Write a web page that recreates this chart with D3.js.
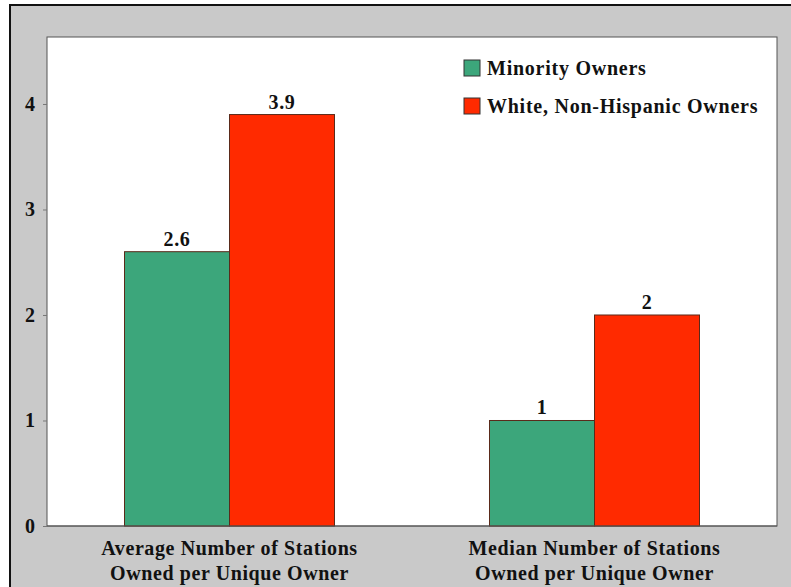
<!DOCTYPE html>
<html>
<head>
<meta charset="utf-8">
<script src="https://cdn.jsdelivr.net/npm/d3@7"></script>
<style>
  html, body { margin: 0; padding: 0; background: #fff; }
  svg text { font-family: "Liberation Serif", "DejaVu Serif", serif; fill: #111; }
</style>
</head>
<body>
<div id="chart"></div>
<script>
// --- Data ---
const categories = [
    ['Average Number of Stations', 'Owned per Unique Owner'],
    ['Median Number of Stations', 'Owned per Unique Owner']
];
const seriesNames = ['Minority Owners', 'White, Non-Hispanic Owners'];
const seriesColors = ['#3ca67b', '#ff2a00'];
const minorityValues = [2.6, 1];
const whiteValues = [3.9, 2];
const valueLabels = [['2.6', '1'], ['3.9', '2']];
const yTicks = [0, 1, 2, 3, 4];

const W = 791, H = 587;
const plot = { left: 47, top: 37, right: 777, bottom: 526 };

const svg = d3.select('#chart').append('svg')
    .attr('width', W)
    .attr('height', H);

// outer frame
svg.append('rect')
    .attr('x', 10).attr('y', 5)
    .attr('width', W - 9).attr('height', H)
    .attr('fill', '#c9c9c9')
    .attr('stroke', '#111')
    .attr('stroke-width', 2);

// plot area
svg.append('rect')
    .attr('x', plot.left).attr('y', plot.top)
    .attr('width', plot.right - plot.left)
    .attr('height', plot.bottom - plot.top)
    .attr('fill', '#fff')
    .attr('stroke', '#555')
    .attr('stroke-width', 1);

// --- Scales ---
const x0 = d3.scaleBand()
    .domain(d3.range(categories.length))
    .range([plot.left, plot.right]);

const x1 = d3.scaleBand()
    .domain(d3.range(seriesNames.length))
    .range([0, 210]);

const y = d3.scaleLinear()
    .domain([0, 4.635])
    .range([plot.bottom, plot.top]);

// --- Y axis ---
const yAxis = svg.append('g')
    .attr('transform', `translate(${plot.left},0)`)
    .call(d3.axisLeft(y).tickValues(yTicks).tickFormat(d3.format('d')).tickSize(4).tickPadding(8));
yAxis.select('.domain').remove();
yAxis.selectAll('line').attr('stroke', '#777');
yAxis.selectAll('text')
    .attr('font-size', 20)
    .attr('font-weight', 'bold')
    .style('font-family', '"Liberation Serif", serif')
    .attr('fill', '#111');

// --- Bars ---
const series = [minorityValues, whiteValues];
series.forEach((vals, s) => {
    vals.forEach((v, i) => {
        const bx = x0(i) + (x0.bandwidth() - 210) / 2 + x1(s);
        svg.append('rect')
            .attr('x', bx)
            .attr('y', y(v))
            .attr('width', x1.bandwidth())
            .attr('height', y(0) - y(v))
            .attr('fill', seriesColors[s])
            .attr('stroke', '#5a2a1a')
            .attr('stroke-width', 1);

        svg.append('text')
            .attr('x', bx + x1.bandwidth() / 2)
            .attr('y', y(v) - 6)
            .attr('text-anchor', 'middle')
            .attr('font-size', 20)
            .attr('font-weight', 'bold')
            .attr('letter-spacing', 0.7)
            .text(valueLabels[s][i]);
    });
});

// redraw plot bottom edge over bars
svg.append('line')
    .attr('x1', plot.left).attr('x2', plot.right)
    .attr('y1', plot.bottom).attr('y2', plot.bottom)
    .attr('stroke', '#555');

// --- Category labels ---
categories.forEach((lines, i) => {
    lines.forEach((line, j) => {
        svg.append('text')
            .attr('x', x0(i) + x0.bandwidth() / 2)
            .attr('y', 555 + j * 25)
            .attr('text-anchor', 'middle')
            .attr('font-size', 20)
            .attr('font-weight', 'bold')
            .attr('letter-spacing', 0.6)
            .text(line);
    });
});

// --- Legend ---
seriesNames.forEach((name, i) => {
    const ly = 60 + i * 38;
    svg.append('rect')
        .attr('x', 464).attr('y', ly)
        .attr('width', 16).attr('height', 16)
        .attr('fill', seriesColors[i])
        .attr('stroke', '#333')
        .attr('stroke-width', 1);
    svg.append('text')
        .attr('x', 487).attr('y', ly + 15)
        .attr('font-size', 20)
        .attr('font-weight', 'bold')
        .attr('letter-spacing', 0.75)
        .text(name);
});
</script>
</body>
</html>
